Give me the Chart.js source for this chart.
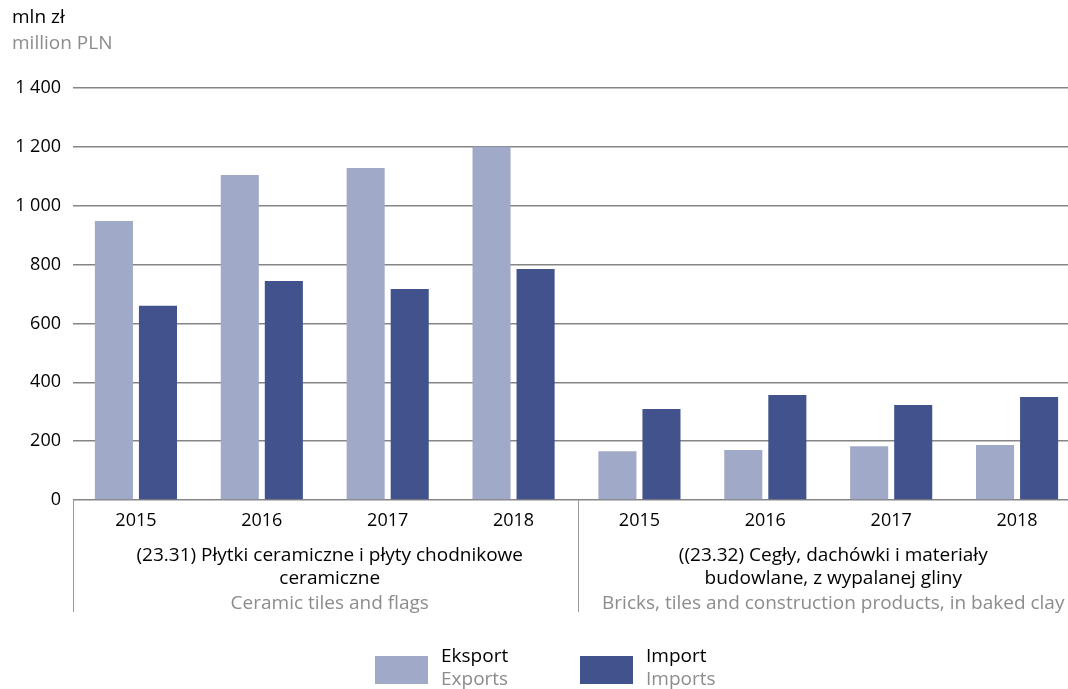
<!DOCTYPE html>
<html>
<head>
<meta charset="utf-8">
<script src="https://cdn.jsdelivr.net/npm/chart.js@4.4.1/dist/chart.umd.min.js"></script>
<style>
  html, body { margin: 0; padding: 0; background: #fff; }
  #wrap { width: 1068px; height: 689px; overflow: hidden; position: relative; }
  canvas { display: block; }
</style>
</head>
<body>
<div id="wrap"><canvas id="chart" width="1080" height="689"></canvas></div>
<script>
// chart data
const years = ['2015', '2016', '2017', '2018'];
const groupLabelsPl = [
  ['(23.31) Płytki ceramiczne i płyty chodnikowe', 'ceramiczne'],
  ['((23.32) Cegły, dachówki i materiały', 'budowlane, z wypalanej gliny']
];
const groupLabelsEn = ['Ceramic tiles and flags', 'Bricks, tiles and construction products, in baked clay'];
const exportTiles = [948, 1104, 1128, 1200];
const importTiles = [660, 744, 717, 785];
const exportBricks = [166, 170, 183, 187];
const importBricks = [309, 357, 323, 350];
const yTicks = [0, 200, 400, 600, 800, 1000, 1200, 1400];
const seriesPl = ['Eksport', 'Import'];
const seriesEn = ['Exports', 'Imports'];

const FONT = '"Open Sans", "Noto Sans", sans-serif';
const GREY_TEXT = '#8c8c8c';
const colors = ['#a1a9c8', '#41528c'];

const labels = years.concat(years);

// draws header, group captions, separators and legend
const extras = {
  id: 'extras',
  afterDraw(chart) {
    const ctx = chart.ctx;
    const x = chart.scales.x;
    const area = chart.chartArea;
    ctx.save();
    ctx.textBaseline = 'middle';

    // unit header
    ctx.textAlign = 'left';
    ctx.font = '19px ' + FONT;
    ctx.fillStyle = '#000';
    ctx.fillText('mln zł', 12, 18);
    ctx.fillStyle = GREY_TEXT;
    ctx.fillText('million PLN', 12, 44);

    // separator lines under the axis
    const step = x.getPixelForValue(1) - x.getPixelForValue(0);
    ctx.strokeStyle = '#9a9a9a';
    ctx.lineWidth = 1;
    [area.left - 0.5, x.getPixelForValue(3) + step / 2 + 1.5].forEach(px => {
      ctx.beginPath();
      ctx.moveTo(Math.round(px) + 0.5, area.bottom);
      ctx.lineTo(Math.round(px) + 0.5, 612);
      ctx.stroke();
    });

    // group captions
    ctx.textAlign = 'center';
    ctx.font = '19px ' + FONT;
    for (let g = 0; g < 2; g++) {
      const cx = (x.getPixelForValue(g * 4) + x.getPixelForValue(g * 4 + 3)) / 2 + 5;
      ctx.fillStyle = '#000';
      groupLabelsPl[g].forEach((t, i) => ctx.fillText(t, cx, 556 + i * 23));
      ctx.fillStyle = GREY_TEXT;
      ctx.fillText(groupLabelsEn[g], cx, 604);
    }

    // legend
    const legendX = [375, 580];
    ctx.textAlign = 'left';
    for (let i = 0; i < 2; i++) {
      ctx.fillStyle = colors[i];
      ctx.fillRect(legendX[i], 656, 53, 28);
      ctx.fillStyle = '#000';
      ctx.fillText(seriesPl[i], legendX[i] + 66, 657);
      ctx.fillStyle = GREY_TEXT;
      ctx.fillText(seriesEn[i], legendX[i] + 66, 680);
    }
    ctx.restore();
  }
};

new Chart(document.getElementById('chart'), {
  type: 'bar',
  data: {
    labels: labels,
    datasets: [
      {
        label: seriesPl[0],
        data: exportTiles.concat(exportBricks),
        backgroundColor: colors[0],
        categoryPercentage: 0.70,
        barPercentage: 0.864
      },
      {
        label: seriesPl[1],
        data: importTiles.concat(importBricks),
        backgroundColor: colors[1],
        categoryPercentage: 0.70,
        barPercentage: 0.864
      }
    ]
  },
  options: {
    responsive: false,
    animation: false,
    layout: { padding: { top: 88, right: 0, left: 0, bottom: 0 } },
    plugins: {
      legend: { display: false },
      tooltip: { enabled: false }
    },
    scales: {
      x: {
        grid: { display: false, drawTicks: false },
        border: { display: false },
        ticks: {
          color: '#000',
          font: { family: FONT, size: 18 },
          padding: 10,
          maxRotation: 0,
          autoSkip: false
        },
        afterFit: s => { s.height = 189; }
      },
      y: {
        min: 0,
        max: 1400,
        afterBuildTicks: s => { s.ticks = yTicks.map(v => ({ value: v })); },
        grid: { color: '#858585', lineWidth: 1.5, drawTicks: false },
        border: { display: false },
        ticks: {
          color: '#000',
          font: { family: FONT, size: 18 },
          padding: 12,
          callback: v => String(v).replace(/\B(?=(\d{3})+(?!\d))/g, ' ')
        },
        afterFit: s => { s.width = 73; }
      }
    }
  },
  plugins: [extras]
});
</script>
</body>
</html>
